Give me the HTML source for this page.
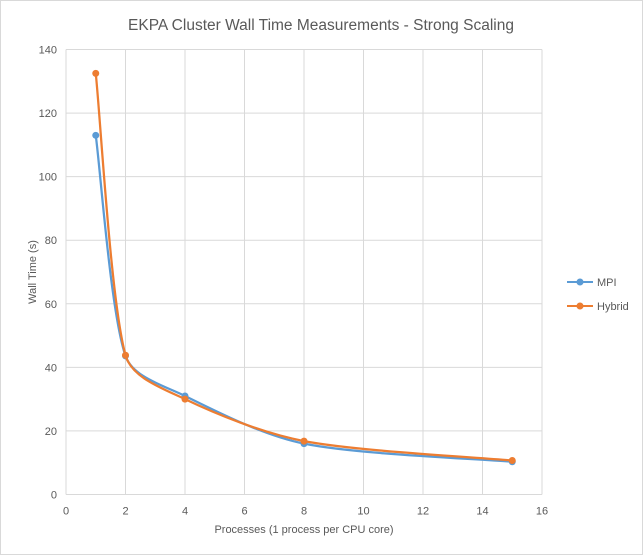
<!DOCTYPE html>
<html><head><meta charset="utf-8"><style>
body{margin:0;background:#fff;}
svg{display:block;font-family:"Liberation Sans",sans-serif;}
</style></head><body>
<svg width="643" height="555">
<rect x="0.5" y="0.5" width="642" height="554" fill="#fff" stroke="#d9d9d9"/>
<text x="321" y="30" text-anchor="middle" font-size="15.5" fill="#595959">EKPA Cluster Wall Time Measurements - Strong Scaling</text>
<g id="grid"></g>
<g id="axes"></g>
<g id="series"></g>
<text x="36" y="272" transform="rotate(-90 36 272)" text-anchor="middle" font-size="11" fill="#595959">Wall Time (s)</text>
<text x="304" y="533" text-anchor="middle" font-size="11" fill="#595959">Processes (1 process per CPU core)</text>
<g>
<g><line x1="567" y1="282" x2="593" y2="282" stroke="#5b9bd5" stroke-width="2"/><circle cx="580" cy="282" r="3.5" fill="#5b9bd5"/><text x="597" y="286" font-size="11" fill="#595959">MPI</text></g>
<g><line x1="567" y1="306" x2="593" y2="306" stroke="#ed7d31" stroke-width="2"/><circle cx="580" cy="306" r="3.5" fill="#ed7d31"/><text x="597" y="310" font-size="11" fill="#595959">Hybrid</text></g>
</g>
</svg>
<script>
const xVals=[1,2,4,8,15];
const mpiVals=[113,43.6,31,16,10.3];
const hybridVals=[132.5,43.8,30,16.8,10.7];
const xTicks=[0,2,4,6,8,10,12,14,16];
const yTicks=[0,20,40,60,80,100,120,140];
const X0=66,X1=542,Y0=494.5,Y1=49.5;
const sx=v=>X0+(v-0)/16*(X1-X0);
const sy=v=>Y0-(v/140)*(Y0-Y1);
const NS='http://www.w3.org/2000/svg';
function mk(t,a,p){const e=document.createElementNS(NS,t);for(const k in a)e.setAttribute(k,a[k]);p.appendChild(e);return e;}
const grid=document.getElementById('grid'),axes=document.getElementById('axes'),ser=document.getElementById('series');
xTicks.forEach(t=>{
 const l=mk('line',{x1:sx(t),x2:sx(t),y1:Y1,y2:Y0,stroke:'#d9d9d9','stroke-width':1},grid);
 
 
 const tx=mk('text',{x:sx(t),y:Y0+20,'text-anchor':'middle','font-size':11,fill:'#595959'},axes);
 tx.textContent=t;
 
 
});
yTicks.forEach(t=>{
 const l=mk('line',{x1:X0,x2:X1,y1:sy(t),y2:sy(t),stroke:'#d9d9d9','stroke-width':1},grid);
 
 
 const tx=mk('text',{x:X0-9,y:sy(t)+4,'text-anchor':'end','font-size':11,fill:'#595959'},axes);
 tx.textContent=t;
 
 
});
const dist=(a,b)=>Math.hypot(a[0]-b[0],a[1]-b[1]);
function path(pts){
 let d=`M${pts[0][0]},${pts[0][1]}`;
 for(let i=0;i<pts.length-1;i++){
  const p0=pts[i-1]||pts[i],p1=pts[i],p2=pts[i+1],p3=pts[i+2]||p2;
  const d01=dist(p0,p1),d12=dist(p1,p2),d23=dist(p2,p3);
  const ka=(1/6)*(d01>0?Math.min(1,2*d12/(d01+d12)):1);
  const kb=(1/6)*(d23>0?Math.min(1,2*d12/(d12+d23)):1);
  d+=` C${p1[0]+(p2[0]-p0[0])*ka},${p1[1]+(p2[1]-p0[1])*ka} ${p2[0]-(p3[0]-p1[0])*kb},${p2[1]-(p3[1]-p1[1])*kb} ${p2[0]},${p2[1]}`;
 }
 return d;
}
[[mpiVals,'#5b9bd5','mpi'],[hybridVals,'#ed7d31','hybrid']].forEach(([vals,c,n])=>{
 const pts=xVals.map((x,i)=>[sx(x),sy(vals[i])]);
 const p=mk('path',{d:path(pts),fill:'none',stroke:c,'stroke-width':2.25},ser);
 
 
 pts.forEach(q=>{
  const ci=mk('circle',{cx:q[0],cy:q[1],r:3.5,fill:c},ser);
  
  
 });
});
</script>
</body></html>
